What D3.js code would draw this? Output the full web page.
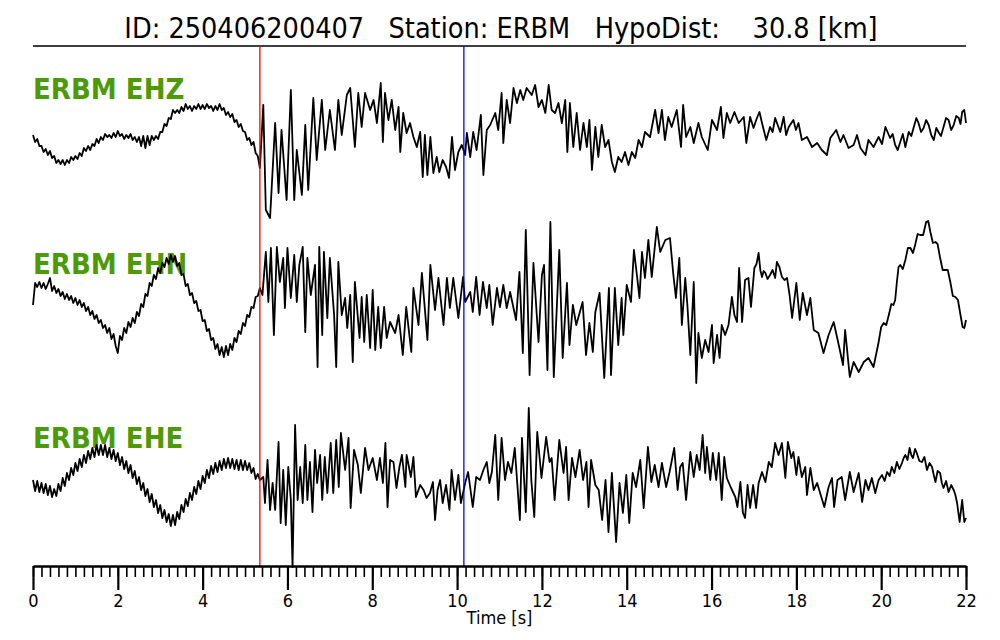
<html>
<head>
<style>
  body { margin: 0; background: #fff; }
  svg text { font-family: "DejaVu Sans Condensed", "DejaVu Sans", sans-serif; }
  .title { font-size: 28.5px; white-space: pre; }
  .chan { font-size: 29px; font-weight: bold; fill: #4e9a06; }
  .trace { fill: none; stroke: #000; stroke-width: 1.8px; stroke-linejoin: round; }
  .axis text { font-size: 18px; }
  .axis .domain { stroke-width: 2px; }
  .minor line { stroke-width: 1.6px; }
  .major line { stroke-width: 2.2px; }
</style>
</head>
<body>
<div id="chart"></div>
<script src="https://d3js.org/d3.v7.min.js"></script>
<script>
// event info
var eventId = "250406200407", station = "ERBM", hypoDist = 30.8;
var pickP = 5.35, pickS = 10.16;
var channels = ["ERBM EHZ", "ERBM EHN", "ERBM EHE"];
var majorTicks = [0, 2, 4, 6, 8, 10, 12, 14, 16, 18, 20, 22];

var preStep = 0.05;
var ehzPre = [5,-2,1,-6,-6,-12,-9,-15,-11,-18,-16,-23,-20,-24,-20,-25,-20,-23,-17,-20,
  -16,-19,-13,-16,-8,-11,-6,-10,-4,-6,1,-3,3,0,6,3,5,2,7,3,9,4,6,1,5,2,6,0,3,-2,
  3,-6,4,-8,4,-5,4,0,4,1,8,8,16,14,22,21,30,27,30,27,33,29,36,31,34,29,34,31,36,31,
  35,31,36,32,34,29,34,30,36,30,32,25,28,23,26,18,20,13,16,9,8,0,2,-5,-2,-13,-16];
var ehnPre = [-5,17,13,18,12,17,11,16,22,9,14,7,11,4,8,1,6,0,4,-3,2,-5,0,-7,-3,-11,-7,-15,-11,-19,
  -15,-23,-20,-28,-25,-33,-28,-39,-34,-46,-53,-36,-40,-28,-33,-22,-27,-18,-23,-12,
  -16,-4,-7,6,4,17,14,25,21,32,27,37,33,42,36,45,38,44,34,37,25,26,14,16,5,7,-3,-1,-11,-10,
  -21,-20,-31,-29,-40,-38,-49,-44,-55,-47,-57,-46,-55,-44,-50,-38,-42,-31,-34,-23,-26,-15,-17,-7,-8,3,4];
var ehePre = [5,-6,4,-7,2,-8,1,-10,-1,-12,-4,-11,1,-6,7,-1,12,5,17,10,22,14,26,18,30,22,34,26,37,28,
  40,30,40,30,40,28,37,26,35,24,32,20,28,16,24,12,20,7,14,1,8,-5,2,-11,-4,-17,-9,-22,-15,-28,
  -20,-33,-25,-37,-29,-41,-30,-40,-27,-34,-20,-27,-14,-21,-8,-15,-2,-9,4,-4,9,2,15,7,19,11,22,13,24,15,
  26,17,27,17,26,16,25,15,25,15,24,15,22,12,17,6,11];

// after the P pick: [time s, counts]
var ehzPost = [[5.35,-28],[5.43,35],[5.49,-70],[5.59,-78],[5.71,17],[5.79,-53],[5.86,10],[5.98,-60],[6.08,50],[6.16,-60],
  [6.22,-10],[6.34,-55],[6.42,15],[6.49,-50],[6.61,42],[6.69,-20],[6.81,40],[6.89,-10],[7.00,30],[7.12,-10],
  [7.20,40],[7.28,5],[7.40,45],[7.48,52],[7.59,-7],[7.67,47],[7.75,13],[7.83,47],[7.95,30],[8.03,40],
  [8.11,17],[8.20,57],[8.25,-2],[8.30,47],[8.38,20],[8.46,40],[8.54,10],[8.62,33],[8.66,-12],[8.73,27],
  [8.81,7],[8.89,17],[8.97,3],[9.05,-7],[9.13,8],[9.19,-37],[9.24,5],[9.30,-35],[9.37,3],[9.44,-33],
  [9.52,-17],[9.58,-32],[9.66,-20],[9.74,-27],[9.81,-38],[9.88,3],[9.95,-30],[10.03,-12],[10.11,-5],[10.19,-15],
  [10.23,7],[10.31,-17],[10.38,8],[10.46,-10],[10.56,25],[10.62,-35],[10.70,10],[10.78,15],[10.90,27],[10.97,10],
  [11.05,47],[11.09,-3],[11.17,40],[11.25,17],[11.33,52],[11.41,37],[11.49,50],[11.56,40],[11.64,52],[11.76,45],
  [11.84,55],[11.92,33],[12.00,40],[12.08,27],[12.16,55],[12.23,30],[12.31,27],[12.39,37],[12.47,17],[12.55,40],
  [12.60,-12],[12.66,37],[12.74,-7],[12.82,27],[12.90,-10],[12.98,17],[13.06,-7],[13.12,20],[13.18,-30],[13.26,13],
  [13.33,-17],[13.41,15],[13.49,-7],[13.57,0],[13.65,-22],[13.72,-32],[13.80,-17],[13.88,-22],[13.96,-12],[14.04,-25],
  [14.12,-12],[14.20,-18],[14.28,0],[14.36,-7],[14.43,8],[14.55,3],[14.67,30],[14.75,7],[14.83,30],[14.90,0],
  [14.98,23],[15.06,13],[15.18,30],[15.28,-7],[15.33,35],[15.40,3],[15.50,13],[15.58,-3],[15.69,17],[15.77,3],
  [15.91,-10],[16.01,20],[16.13,10],[16.22,33],[16.28,2],[16.36,27],[16.44,17],[16.54,28],[16.64,17],[16.76,23],
  [16.82,-3],[16.91,23],[16.99,12],[17.07,22],[17.13,28],[17.19,17],[17.29,0],[17.38,13],[17.44,8],[17.50,22],
  [17.62,8],[17.70,23],[17.76,5],[17.82,13],[17.93,20],[17.99,10],[18.05,17],[18.13,0],[18.25,3],[18.37,-7],
  [18.49,-3],[18.60,-10],[18.72,-15],[18.80,2],[18.94,10],[19.04,-2],[19.11,5],[19.23,-8],[19.35,-5],[19.43,5],
  [19.51,-8],[19.63,-15],[19.70,0],[19.82,-7],[19.94,3],[20.02,-4],[20.10,13],[20.21,2],[20.27,6],[20.33,-5],
  [20.39,-10],[20.45,-2],[20.51,6],[20.57,-7],[20.65,8],[20.71,4],[20.77,13],[20.83,22],[20.88,17],[20.94,8],
  [21.00,12],[21.06,20],[21.12,15],[21.18,5],[21.24,0],[21.30,12],[21.35,8],[21.41,4],[21.47,13],[21.53,22],
  [21.59,20],[21.65,10],[21.71,15],[21.77,24],[21.83,22],[21.87,16],[21.91,28],[21.96,30],[22.00,17]];

var ehnPost = [[5.35,12],[5.41,5],[5.49,48],[5.55,-2],[5.61,52],[5.68,-35],[5.75,53],[5.82,18],[5.90,42],[5.94,-8],
  [6.00,52],[6.08,2],[6.16,45],[6.22,-2],[6.28,35],[6.36,53],[6.42,-32],[6.47,42],[6.55,5],[6.65,35],
  [6.71,-67],[6.75,53],[6.82,-35],[6.86,48],[6.94,-18],[7.00,42],[7.10,-15],[7.15,-67],[7.20,38],[7.28,-15],
  [7.36,2],[7.41,-28],[7.48,5],[7.54,-62],[7.59,18],[7.70,-38],[7.75,3],[7.81,-42],[7.87,5],[7.95,-48],
  [8.01,10],[8.07,-50],[8.14,-7],[8.20,-48],[8.28,-7],[8.34,-38],[8.42,-22],[8.54,-33],[8.62,-15],[8.72,-55],
  [8.80,-7],[8.92,-52],[8.97,12],[9.09,-25],[9.17,27],[9.30,-40],[9.37,35],[9.48,-10],[9.56,22],[9.68,-25],
  [9.76,22],[9.83,-8],[9.91,22],[10.03,-18],[10.14,23],[10.19,-2],[10.31,8],[10.37,-12],[10.45,23],[10.53,-15],
  [10.61,18],[10.70,-8],[10.76,15],[10.84,-25],[10.94,12],[11.01,-7],[11.09,15],[11.17,-8],[11.25,8],[11.39,-20],
  [11.47,28],[11.55,-53],[11.62,70],[11.71,-75],[11.80,37],[11.92,-42],[12.00,25],[12.05,35],[12.13,-70],[12.20,78],
  [12.28,-77],[12.41,50],[12.49,-58],[12.59,17],[12.65,-45],[12.73,-5],[12.81,-25],[12.96,-2],[13.04,-55],[13.12,-23],
  [13.20,-52],[13.26,-12],[13.36,7],[13.47,-78],[13.58,12],[13.63,-75],[13.72,12],[13.80,-45],[13.88,2],[13.92,-35],
  [14.00,15],[14.10,-2],[14.17,50],[14.24,25],[14.30,2],[14.36,48],[14.43,22],[14.51,60],[14.59,23],[14.71,73],
  [14.79,48],[14.91,60],[15.02,62],[15.10,25],[15.16,2],[15.24,42],[15.30,-25],[15.38,22],[15.43,-5],[15.50,-55],
  [15.58,18],[15.64,-83],[15.69,-33],[15.77,-58],[15.85,-40],[15.93,-52],[16.01,-25],[16.05,-63],[16.13,-35],[16.19,-58],
  [16.24,-25],[16.32,-35],[16.40,-25],[16.48,3],[16.54,-15],[16.60,-22],[16.65,32],[16.72,-22],[16.79,20],[16.87,22],
  [16.93,-7],[17.01,32],[17.06,36],[17.11,47],[17.15,30],[17.19,23],[17.23,29],[17.27,27],[17.32,21],[17.38,25],
  [17.44,30],[17.50,22],[17.54,38],[17.60,33],[17.66,23],[17.72,20],[17.78,22],[17.84,5],[17.90,-18],[18.00,17],
  [18.08,-20],[18.15,7],[18.25,-15],[18.33,2],[18.41,-30],[18.52,-33],[18.64,-53],[18.76,-35],[18.88,-22],[19.00,-45],
  [19.10,-65],[19.15,-30],[19.26,-77],[19.35,-62],[19.47,-72],[19.59,-62],[19.70,-58],[19.82,-67],[19.94,-42],[20.00,-27],
  [20.06,-23],[20.12,-25],[20.18,-15],[20.24,-4],[20.29,-5],[20.33,0],[20.37,18],[20.41,33],[20.45,35],[20.51,31],
  [20.57,40],[20.63,52],[20.69,52],[20.75,47],[20.80,55],[20.86,66],[20.92,65],[20.99,65],[21.06,78],[21.11,79],
  [21.16,68],[21.22,57],[21.28,58],[21.33,56],[21.39,42],[21.45,30],[21.51,30],[21.57,30],[21.63,18],[21.69,4],
  [21.75,3],[21.81,0],[21.87,-15],[21.92,-27],[21.96,-28],[22.00,-20]];

var ehePost = [[5.35,5],[5.43,8],[5.47,-18],[5.53,25],[5.59,-25],[5.65,2],[5.71,-25],[5.79,43],[5.84,-38],[5.90,15],
  [5.96,-40],[6.02,18],[6.08,-15],[6.12,-82],[6.18,60],[6.24,-15],[6.30,18],[6.36,-18],[6.42,40],[6.47,-15],
  [6.53,23],[6.59,-27],[6.65,35],[6.70,2],[6.77,30],[6.82,-15],[6.88,28],[6.94,-8],[7.02,42],[7.08,-8],
  [7.15,45],[7.21,-2],[7.26,52],[7.36,15],[7.44,47],[7.49,-23],[7.57,35],[7.66,20],[7.73,-8],[7.83,37],
  [7.91,15],[8.01,27],[8.11,5],[8.18,27],[8.25,2],[8.31,42],[8.36,-22],[8.42,25],[8.50,23],[8.57,-3],
  [8.64,18],[8.70,30],[8.78,-2],[8.81,30],[8.91,8],[8.97,28],[9.03,-12],[9.13,0],[9.21,-5],[9.28,-13],
  [9.36,-8],[9.43,3],[9.48,-35],[9.54,-5],[9.60,5],[9.66,-18],[9.74,0],[9.82,-25],[9.87,15],[9.95,-15],
  [10.03,10],[10.09,-18],[10.19,2],[10.26,13],[10.37,-22],[10.45,8],[10.54,5],[10.62,15],[10.70,23],[10.76,2],
  [10.82,13],[10.90,50],[10.97,-15],[11.05,47],[11.13,5],[11.20,23],[11.28,12],[11.36,37],[11.48,-35],[11.53,47],
  [11.62,-27],[11.69,77],[11.75,5],[11.82,-32],[11.89,53],[11.99,7],[12.10,48],[12.18,23],[12.23,27],[12.30,-15],
  [12.41,45],[12.51,12],[12.57,38],[12.63,-15],[12.71,27],[12.79,8],[12.89,35],[12.97,5],[13.05,23],[13.10,-22],
  [13.16,25],[13.26,0],[13.34,-5],[13.42,-35],[13.50,5],[13.57,-47],[13.65,12],[13.75,-57],[13.83,2],[13.91,-28],
  [13.99,10],[14.06,-38],[14.14,12],[14.22,-2],[14.32,25],[14.40,-23],[14.50,38],[14.58,3],[14.66,20],[14.75,-2],
  [14.83,22],[14.93,-2],[15.01,13],[15.12,37],[15.20,-5],[15.26,18],[15.32,22],[15.40,-15],[15.50,33],[15.58,8],
  [15.65,30],[15.72,15],[15.79,50],[15.85,12],[15.89,38],[15.97,5],[16.03,32],[16.11,5],[16.17,32],[16.24,-15],
  [16.30,28],[16.36,7],[16.46,-3],[16.56,-12],[16.61,-22],[16.68,3],[16.74,-28],[16.79,-33],[16.85,0],[16.91,-23],
  [16.98,0],[17.05,-23],[17.11,2],[17.19,13],[17.27,3],[17.35,23],[17.42,18],[17.50,42],[17.58,30],[17.66,42],
  [17.74,7],[17.80,43],[17.88,27],[17.93,33],[18.00,10],[18.05,28],[18.13,8],[18.21,18],[18.25,-10],[18.33,17],
  [18.41,-5],[18.49,2],[18.56,-8],[18.66,-22],[18.76,-2],[18.84,7],[18.89,-22],[18.97,5],[19.07,8],[19.15,-15],
  [19.26,13],[19.35,-7],[19.47,12],[19.55,-17],[19.63,5],[19.70,-5],[19.78,7],[19.86,-8],[19.94,5],[20.02,10],
  [20.08,4],[20.14,13],[20.20,9],[20.25,18],[20.31,12],[20.37,23],[20.43,16],[20.49,22],[20.53,27],[20.57,30],
  [20.62,25],[20.67,37],[20.71,30],[20.75,27],[20.80,36],[20.84,32],[20.90,24],[20.96,23],[21.02,28],[21.08,15],
  [21.14,22],[21.20,18],[21.24,10],[21.28,3],[21.33,14],[21.39,12],[21.43,2],[21.47,-3],[21.53,4],[21.59,-7],
  [21.65,0],[21.71,-5],[21.75,-10],[21.79,-18],[21.85,-37],[21.91,-15],[21.96,-37],[22.00,-33]];

var width = 1000, height = 640;
var left = 33, right = 966, topRule = 46, axisY = 566;
var traceCenters = [140, 300, 485];
var labelBase = [99, 274, 448];

function joinTrace(pre, post) {
  return pre.map(function (v, i) { return [i * preStep, v]; }).concat(post);
}
var traces = [joinTrace(ehzPre, ehzPost), joinTrace(ehnPre, ehnPost), joinTrace(ehePre, ehePost)];

var svg = d3.select("#chart").append("svg")
  .attr("width", width).attr("height", height);

var x = d3.scaleLinear().domain([0, 22]).range([left, right]);

// title + rule
svg.append("text").attr("class", "title")
  .attr("x", 501).attr("y", 38).attr("text-anchor", "middle")
  .text("ID: " + eventId + "   Station: " + station + "   HypoDist:    " + hypoDist.toFixed(1) + " [km]");

svg.append("line")
  .attr("x1", x(0)).attr("x2", x(22)).attr("y1", topRule).attr("y2", topRule)
  .attr("stroke", "#000").attr("stroke-width", 1.6);

// channel labels go under the traces
svg.selectAll(".chan").data(channels).enter().append("text")
  .attr("class", "chan")
  .attr("x", left)
  .attr("y", function (d, i) { return labelBase[i]; })
  .text(function (d) { return d; });

traces.forEach(function (data, i) {
  var c = traceCenters[i];
  var y = d3.scaleLinear().domain([-100, 100]).range([c + 100, c - 100]);
  var line = d3.line()
    .x(function (d) { return x(d[0]); })
    .y(function (d) { return y(d[1]); });
  svg.append("path").datum(data).attr("class", "trace").attr("d", line);
});

// phase picks
svg.selectAll(".pick").data([[pickP, "#ff0000"], [pickS, "#0000ff"]]).enter().append("line")
  .attr("class", "pick")
  .attr("x1", function (d) { return x(d[0]); })
  .attr("x2", function (d) { return x(d[0]); })
  .attr("y1", topRule).attr("y2", axisY)
  .attr("stroke", function (d) { return d[1]; })
  .attr("stroke-width", 1.3);

// time axis: minor ticks every 0.2 s, labelled ticks every 2 s
var minorTicks = d3.range(0, 111).map(function (i) { return i / 5; });

svg.append("g").attr("class", "axis minor")
  .attr("transform", "translate(0," + axisY + ")")
  .call(d3.axisBottom(x).tickValues(minorTicks).tickSize(11).tickSizeOuter(0).tickFormat(""));

svg.append("g").attr("class", "axis major")
  .attr("transform", "translate(0," + axisY + ")")
  .call(d3.axisBottom(x).tickValues(majorTicks).tickSize(24).tickSizeOuter(0).tickPadding(4)
    .tickFormat(d3.format("d")));

svg.append("text")
  .attr("x", (left + right) / 2).attr("y", 624)
  .attr("text-anchor", "middle")
  .style("font-size", "18px")
  .text("Time [s]");
</script>
</body>
</html>
